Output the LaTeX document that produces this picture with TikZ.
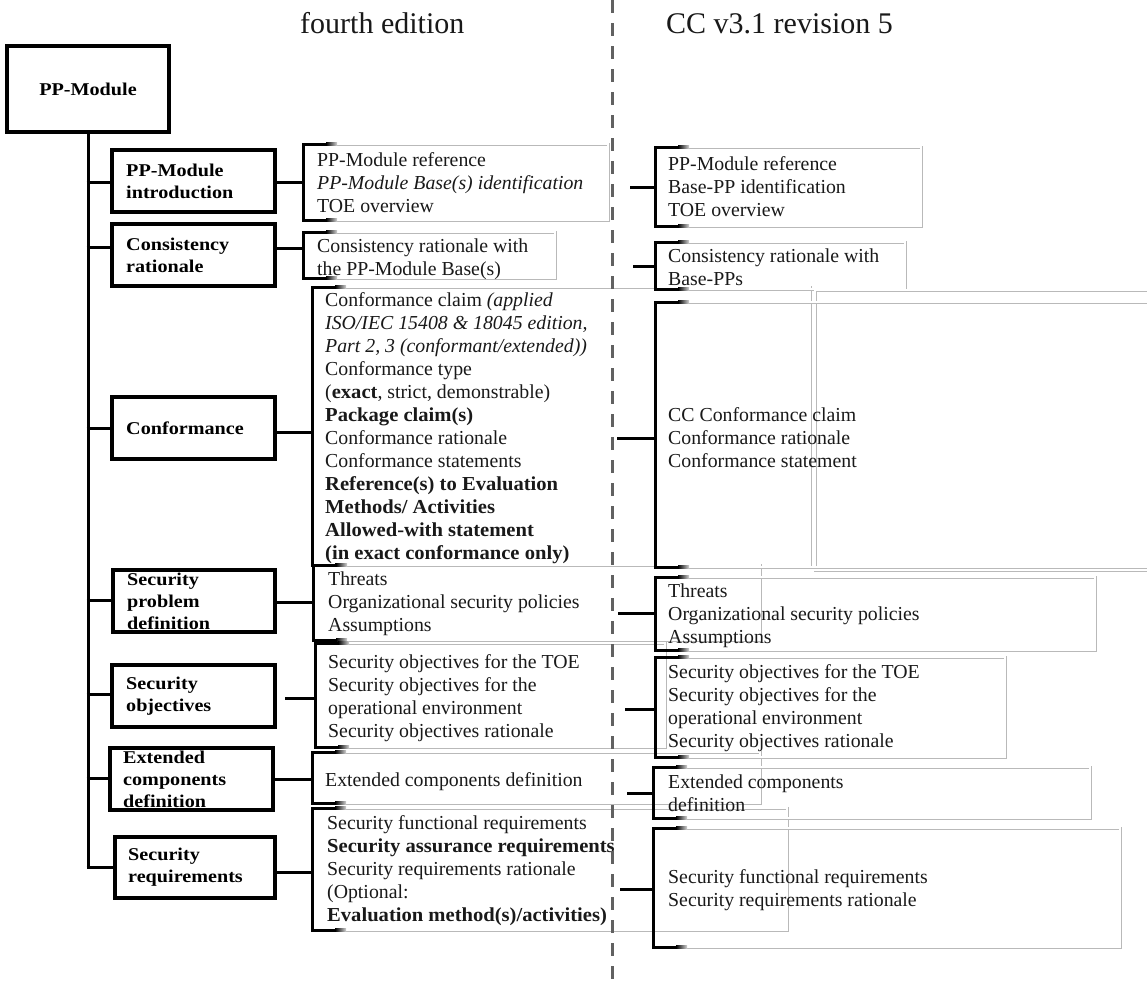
\documentclass[tikz,border=0pt]{standalone}
\usepackage{fontspec}
\setmainfont{Liberation Serif}[BoldFeatures={FakeStretch=1.04}]
\newfontfamily\catfont{Liberation Serif}[BoldFeatures={FakeStretch=1.12}]
\usetikzlibrary{fit}

% thick black bracket on the left side of a framed item list
\newcommand\leftbracket[1]{%
  \draw[brk] ([xshift=24pt]#1.north west) -- (#1.north west) -- (#1.south west) -- ([xshift=24pt]#1.south west);
  \shade[left color=black, right color=gray!35] ([xshift=23pt,yshift=1.5pt]#1.north west) rectangle ([xshift=34pt,yshift=-1.5pt]#1.north west);
  \shade[left color=black, right color=gray!35] ([xshift=23pt,yshift=1.5pt]#1.south west) rectangle ([xshift=34pt,yshift=-1.5pt]#1.south west);
}

\begin{document}
\begin{tikzpicture}[x=1pt,y=-1pt,
  catbox/.style={draw=black, line width=3.4pt, fill=white, inner sep=0pt, outer sep=0pt,
                 minimum width=163pt, minimum height=62pt},
  cattext/.style={font=\catfont\bfseries\fontsize{18pt}{22pt}\selectfont, align=left,
                  inner sep=0pt, anchor=west},
  itemframe/.style={draw=gray!55, double=white, double distance=1.8pt, line width=0.6pt,
                    inner sep=0pt, outer sep=0pt, rectangle},
  itemtext/.style={font=\fontsize{19.8pt}{23pt}\selectfont, align=left, inner sep=0pt,
                   anchor=north west, text=black!90},
  brk/.style={line width=3pt, line join=miter, line cap=butt},
  link/.style={line width=3pt},
  divider/.style={draw=black!62, line width=3pt, dash pattern=on 13pt off 10pt},
  heading/.style={font=\fontsize{30pt}{36pt}\selectfont, inner sep=0pt, anchor=base west, text=black!90}
]
\fill[white] (0,0) rectangle (1147,986);
\useasboundingbox (0,0) rectangle (1147,986);

% ---------- column headings ----------
\node[heading] (hd1) at (300,33) {fourth edition};
\node[heading] (hd2) at (666,33) {CC v3.1 revision 5};

% ---------- item frames, fourth edition ----------
\node[itemframe, fit={(303,144) (608,220)}] (c1) {};
\node[itemframe, fit={(303,232) (555,278)}] (c2) {};
\node[itemframe, fit={(312,287) (810,565)}] (c3) {};
\node[itemframe, fit={(313,565) (760,640)}] (c4) {};
\node[itemframe, fit={(315,643) (665,747)}] (c5) {};
\node[itemframe, fit={(312,752) (760,803)}] (c6) {};
\node[itemframe, fit={(312,808) (787,930)}] (c7) {};

% ---------- item frames, CC v3.1 ----------
\node[itemframe, fit={(655,147) (921,226)}] (d1) {};
\node[itemframe, fit={(655,242) (905,289)}] (d2) {};
\node[itemframe, fit={(815,290) (1152,570)}] (d3x) {};
\node[itemframe, fit={(655,302) (1152,567)}] (d3) {};
\node[itemframe, fit={(655,577) (1095,650)}] (d4) {};
\node[itemframe, fit={(655,657) (1005,757)}] (d5) {};
\node[itemframe, fit={(653,767) (1090,818)}] (d6) {};
\node[itemframe, fit={(653,828) (1120,947)}] (d7) {};

\foreach \n in {c1,c2,c3,c4,c5,c6,c7,d1,d2,d3,d4,d5,d6,d7} {\leftbracket{\n}}

% ---------- item texts ----------
\node[itemtext] (c1t) at (317,152) {PP-Module reference\\\textit{PP-Module Base(s) identification}\\TOE overview};
\node[itemtext] (c2t) at (317,239) {Consistency rationale with\\the PP-Module Base(s)};
\node[itemtext] (c3t) at (325,292) {Conformance claim \textit{(applied}\\
  \textit{ISO/IEC 15408 \& 18045 edition,}\\
  \textit{Part 2, 3 (conformant/extended))}\\
  Conformance type\\
  (\textbf{exact}, strict, demonstrable)\\
  \textbf{Package claim(s)}\\
  Conformance rationale\\
  Conformance statements\\
  \textbf{Reference(s) to Evaluation}\\
  \textbf{Methods/ Activities}\\
  \textbf{Allowed-with statement}\\
  \textbf{(in exact conformance only)}};
\node[itemtext] (c4t) at (328,572) {Threats\\Organizational security policies\\Assumptions};
\node[itemtext] (c5t) at (328,654) {Security objectives for the TOE\\Security objectives for the\\operational environment\\Security objectives rationale};
\node[itemtext] (c6t) at (325,772) {Extended components definition};
\node[itemtext] (c7t) at (327,815) {Security functional requirements\\
  \textbf{Security assurance requirements}\\
  Security requirements rationale\\
  (Optional:\\
  \textbf{Evaluation method(s)/activities)}};

\node[itemtext] (d1t) at (668,156) {PP-Module reference\\Base-PP identification\\TOE overview};
\node[itemtext] (d2t) at (668,249) {Consistency rationale with\\Base-PPs};
\node[itemtext] (d3t) at (668,407) {CC Conformance claim\\Conformance rationale\\Conformance statement};
\node[itemtext] (d4t) at (668,584) {Threats\\Organizational security policies\\Assumptions};
\node[itemtext] (d5t) at (668,664) {Security objectives for the TOE\\Security objectives for the\\operational environment\\Security objectives rationale};
\node[itemtext] (d6t) at (668,775) {Extended components\\definition};
\node[itemtext] (d7t) at (668,869) {Security functional requirements\\Security requirements rationale};

% ---------- structure boxes ----------
\node[catbox, minimum width=162pt, minimum height=86pt] (pp) at (88,89) {};
\node[font=\catfont\bfseries\fontsize{18pt}{22pt}\selectfont, inner sep=0pt] (ppt) at (pp) {PP-Module};

\node[catbox] (b1) at (193.5,181) {};
\node[catbox] (b2) at (193.5,255) {};
\node[catbox] (b3) at (193.5,428) {};
\node[catbox, minimum width=162pt] (b4) at (194,601) {};
\node[catbox] (b5) at (193.5,696) {};
\node[catbox] (b6) at (191.5,779) {};
\node[catbox, minimum width=160pt, minimum height=61pt] (b7) at (195,867.5) {};

\node[cattext] (b1t) at ([xshift=14pt]b1.west) {PP-Module\\introduction};
\node[cattext] (b2t) at ([xshift=14pt]b2.west) {Consistency\\rationale};
\node[cattext] (b3t) at ([xshift=14pt]b3.west) {Conformance};
\node[cattext] (b4t) at ([xshift=14pt]b4.west) {Security\\problem\\definition};
\node[cattext] (b5t) at ([xshift=14pt]b5.west) {Security\\objectives};
\node[cattext] (b6t) at ([xshift=13pt]b6.west) {Extended\\components\\definition};
\node[cattext] (b7t) at ([xshift=13pt]b7.west) {Security\\requirements};

% ---------- tree connectors ----------
\coordinate (t1) at (0,182);
\coordinate (t2) at (0,247);
\coordinate (t3) at (0,428);
\coordinate (t4) at (0,600);
\coordinate (t5) at (0,694);
\coordinate (t6) at (0,778);
\coordinate (t7) at (0,867);
\draw[link] (pp.south) -- (pp.south |- t7);
\foreach \b/\t in {b1/t1,b2/t2,b3/t3,b4/t4,b5/t5,b6/t6,b7/t7}
  \draw[link] ([xshift=-1.5pt]pp.south |- \t) -- (\b.west |- \t);

% structure box -> fourth edition items
\coordinate (k1) at (0,182);
\coordinate (k2) at (0,248);
\coordinate (k3) at (0,432);
\coordinate (k4) at (0,602);
\coordinate (k5) at (0,698);
\coordinate (k6) at (0,779);
\coordinate (k7) at (0,872);
\draw[link] (b1.east |- k1) -- (c1.west |- k1);
\draw[link] (b2.east |- k2) -- (c2.west |- k2);
\draw[link] (b3.east |- k3) -- (c3.west |- k3);
\draw[link] (b4.east |- k4) -- (c4.west |- k4);
\coordinate (k5s) at (285,698);
\draw[link] (k5s) -- (c5.west |- k5);
\draw[link] (b6.east |- k6) -- (c6.west |- k6);
\draw[link] (b7.east |- k7) -- (c7.west |- k7);

% short stubs into the CC v3.1 items
\coordinate (s1) at (630,187);
\coordinate (s2) at (633,266);
\coordinate (s3) at (617,438);
\coordinate (s4) at (618,613);
\coordinate (s5) at (625,709);
\coordinate (s6) at (627,793);
\coordinate (s7) at (620,889);
\foreach \s/\d in {s1/d1,s2/d2,s3/d3,s4/d4,s5/d5,s6/d6,s7/d7}
  \draw[link] (\s) -- (\d.west |- \s);

% ---------- dividing line between the editions ----------
\coordinate (divtop) at (612,0);
\coordinate (divbot) at (612,986);
\draw[divider] (divtop) -- (divbot);
\end{tikzpicture}
\end{document}
